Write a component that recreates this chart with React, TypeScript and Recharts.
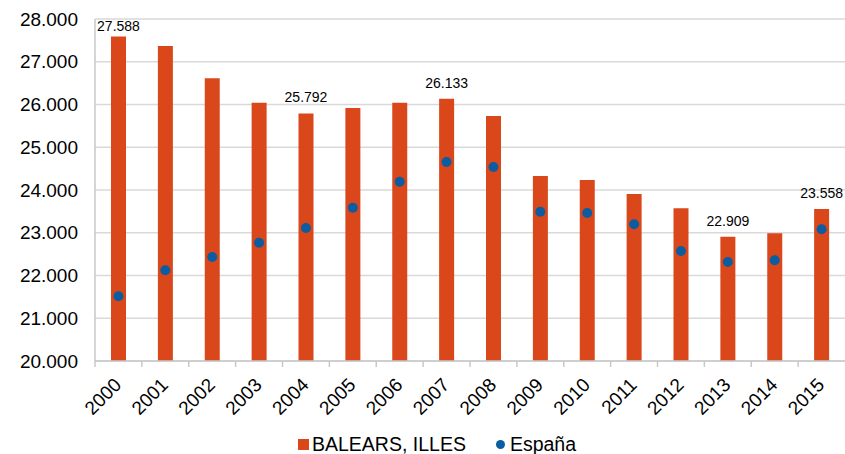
import {
  Bar,
  CartesianGrid,
  ComposedChart,
  LabelList,
  Legend,
  Scatter,
  XAxis,
  YAxis,
} from "recharts";

const years = [
  "2000", "2001", "2002", "2003", "2004", "2005", "2006", "2007",
  "2008", "2009", "2010", "2011", "2012", "2013", "2014", "2015",
];
const baleares = [
  27588, 27370, 26615, 26042, 25792, 25918, 26042, 26133,
  25731, 24327, 24234, 23906, 23571, 22909, 22990, 23558,
];
const espana = [
  21514, 22121, 22433, 22767, 23111, 23586, 24194, 24655,
  24538, 23493, 23462, 23197, 22573, 22316, 22355, 23081,
];
const labeledYears = ["2000", "2004", "2007", "2013", "2015"];
const yTicks = [20000, 21000, 22000, 23000, 24000, 25000, 26000, 27000, 28000];

const barColor = "#D9471A";
const dotColor = "#0B5CA0";
const axisColor = "#C8C8C8";
const font = "'Liberation Sans', Arial, sans-serif";

const fmt = (n: number) => {
  const k = Math.floor(n / 1000);
  const r = String(Math.round(n % 1000)).padStart(3, "0");
  return `${k}.${r}`;
};

const data = years.map((year, i) => ({
  year,
  baleares: baleares[i],
  espana: espana[i],
}));

// category labels rotated, plus tick marks on the category boundaries
function YearTick({ x, y, payload, width, visibleTicksCount }: any) {
  const band = width / visibleTicksCount;
  const tx = x + 4;
  const ty = y + 25;
  const left = x - band / 2;
  return (
    <g>
      <line x1={left} y1={y} x2={left} y2={y + 6} stroke={axisColor} strokeWidth={1.5} />
      <text
        x={tx}
        y={ty}
        textAnchor="end"
        fontSize={19}
        fill="#000"
        fontFamily={font}
        transform={`rotate(-45, ${tx}, ${ty})`}
      >
        {payload.value}
      </text>
    </g>
  );
}

function ValueLabel({ x, y, width, index }: any) {
  if (!labeledYears.includes(years[index])) return null;
  const ty = Math.max(y - 11, 31);
  return (
    <text
      x={x + width / 2}
      y={ty}
      textAnchor="middle"
      fontSize={14}
      fill="#000"
      fontFamily={font}
    >
      {fmt(baleares[index])}
    </text>
  );
}

function LegendBox() {
  return (
    <div
      style={{
        display: "flex",
        alignItems: "center",
        paddingLeft: 298,
        paddingTop: 4,
        height: 28,
        lineHeight: "28px",
        fontSize: 19.5,
        fontFamily: font,
        color: "#000",
      }}
    >
      <span style={{ width: 11, height: 11, background: barColor, marginRight: 3 }} />
      <span>BALEARS, ILLES</span>
      <span
        style={{
          width: 9,
          height: 9,
          borderRadius: "50%",
          background: dotColor,
          marginLeft: 30,
          marginRight: 5,
        }}
      />
      <span>España</span>
    </div>
  );
}

export default function App() {
  return (
    <div style={{ position: "absolute", left: 0, top: 0 }}>
      <ComposedChart
        width={845}
        height={454}
        data={data}
        margin={{ top: 19, right: 0, left: 0, bottom: 0 }}
        style={{ fontFamily: font }}
      >
        <CartesianGrid vertical={false} stroke="#D9D9D9" strokeWidth={1.5} />
        <XAxis
          dataKey="year"
          height={65}
          tickSize={0}
          tickMargin={0}
          tickLine={false}
          axisLine={{ stroke: axisColor, strokeWidth: 1.5 }}
          tick={<YearTick />}
          interval={0}
        />
        <YAxis
          width={95}
          domain={[20000, 28000]}
          ticks={yTicks}
          tickFormatter={fmt}
          tickSize={0}
          tickMargin={17}
          tickLine={false}
          axisLine={{ stroke: axisColor, strokeWidth: 1.5 }}
          tick={{ fontSize: 19, fill: "#000", fontFamily: font }}
        />
        <Legend verticalAlign="bottom" height={28} content={<LegendBox />} />
        <Bar
          dataKey="baleares"
          name="BALEARS, ILLES"
          fill={barColor}
          barSize={15}
          isAnimationActive={false}
        >
          <LabelList dataKey="baleares" content={<ValueLabel />} />
        </Bar>
        <Scatter
          dataKey="espana"
          name="España"
          fill={dotColor}
          isAnimationActive={false}
          shape={(p: any) => <circle cx={p.cx} cy={p.cy} r={5} fill={dotColor} />}
        />
      </ComposedChart>
    </div>
  );
}
